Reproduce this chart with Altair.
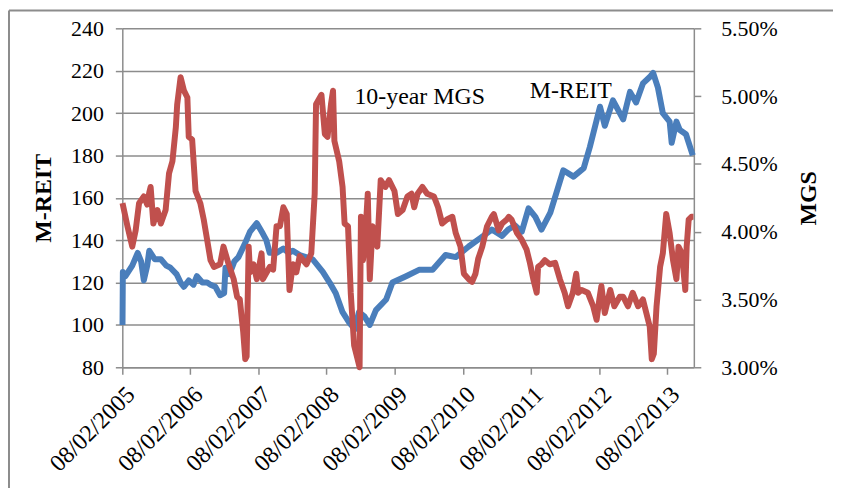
import altair as alt
import pandas as pd

# M-REIT index (left axis), decimal-year positions and values
mreit_t = [2005.107, 2005.112, 2005.15, 2005.25, 2005.33, 2005.38, 2005.42, 2005.47, 2005.50, 2005.58,
           2005.67, 2005.75, 2005.81, 2005.90, 2005.96, 2006.01, 2006.08, 2006.15, 2006.20, 2006.28,
           2006.35, 2006.40, 2006.47, 2006.54, 2006.60, 2006.62, 2006.68, 2006.75, 2006.81, 2006.90,
           2006.98, 2007.08, 2007.17, 2007.22, 2007.27, 2007.37, 2007.47, 2007.55, 2007.61, 2007.71,
           2007.90, 2008.05, 2008.15, 2008.24, 2008.34, 2008.44, 2008.52, 2008.58, 2008.66, 2008.74,
           2008.83, 2008.98, 2009.07, 2009.27, 2009.46, 2009.66, 2009.85, 2010.00, 2010.19, 2010.36,
           2010.53, 2010.68, 2010.77, 2010.87, 2010.97, 2011.07, 2011.17, 2011.26, 2011.39, 2011.58,
           2011.73, 2011.88, 2011.97, 2012.12, 2012.19, 2012.31, 2012.46, 2012.56, 2012.65, 2012.75,
           2012.85, 2012.90, 2012.97, 2013.04, 2013.14, 2013.17, 2013.24, 2013.29, 2013.38, 2013.48]
mreit_v = [100, 125, 123, 128, 134, 130, 121, 128, 135, 131,
           131, 128, 127, 124, 120, 118, 121, 119, 123, 120,
           120, 119, 118, 114, 115, 127, 124, 130, 132, 138,
           144, 148, 143, 140, 134, 134, 136, 134, 135, 133,
           131, 125, 120, 115, 106, 101, 98, 106, 104, 100,
           107, 112, 120, 123, 126, 126, 133, 132, 137, 141,
           145, 142, 145, 147, 144, 155, 151, 145, 153, 173,
           170, 174, 184, 203, 194, 206, 197, 210, 205, 214,
           217, 219, 212, 200, 196, 186, 196, 192, 190, 180]

# 10-year MGS yield in % (right axis)
mgs_t = [2005.107, 2005.18, 2005.25, 2005.30, 2005.35, 2005.42, 2005.47, 2005.50, 2005.52, 2005.56,
         2005.62, 2005.67, 2005.74, 2005.79, 2005.84, 2005.89, 2005.91, 2005.96, 2006.01, 2006.06,
         2006.08, 2006.13, 2006.18, 2006.25, 2006.30, 2006.35, 2006.40, 2006.45, 2006.54, 2006.59,
         2006.66, 2006.74, 2006.79, 2006.83, 2006.88, 2006.91, 2006.93, 2006.96, 2006.98, 2007.03,
         2007.08, 2007.15, 2007.17, 2007.27, 2007.32, 2007.37, 2007.42, 2007.47, 2007.52, 2007.56,
         2007.61, 2007.66, 2007.71, 2007.81, 2007.88, 2007.93, 2007.95, 2008.03, 2008.08, 2008.12,
         2008.17, 2008.20, 2008.22, 2008.29, 2008.34, 2008.37, 2008.42, 2008.46, 2008.51, 2008.56,
         2008.59, 2008.61, 2008.64, 2008.67, 2008.71, 2008.74, 2008.78, 2008.85, 2008.90, 2008.97,
         2009.02, 2009.10, 2009.15, 2009.22, 2009.29, 2009.35, 2009.39, 2009.44, 2009.51, 2009.58,
         2009.68, 2009.74, 2009.80, 2009.87, 2009.95, 2010.00, 2010.07, 2010.12, 2010.19, 2010.24,
         2010.29, 2010.33, 2010.39, 2010.46, 2010.53, 2010.56, 2010.63, 2010.68, 2010.75, 2010.78,
         2010.82, 2010.90, 2010.97, 2011.04, 2011.09, 2011.14, 2011.19, 2011.21, 2011.26, 2011.31,
         2011.38, 2011.46, 2011.53, 2011.60, 2011.65, 2011.72, 2011.77, 2011.80, 2011.85, 2011.94,
         2012.02, 2012.07, 2012.11, 2012.14, 2012.19, 2012.27, 2012.33, 2012.41, 2012.46, 2012.53,
         2012.60, 2012.68, 2012.75, 2012.80, 2012.85, 2012.88, 2012.91, 2012.95, 2013.00, 2013.04,
         2013.09, 2013.14, 2013.19, 2013.24, 2013.27, 2013.32, 2013.37, 2013.39, 2013.42, 2013.46,
         2013.49]
mgs_v = [4.21, 4.04, 3.89, 4.01, 4.21, 4.26, 4.20, 4.29, 4.33, 4.06,
         4.16, 4.06, 4.16, 4.43, 4.52, 4.77, 4.94, 5.14, 5.04, 4.99,
         4.70, 4.68, 4.30, 4.21, 4.09, 3.94, 3.79, 3.74, 3.76, 3.89,
         3.77, 3.65, 3.52, 3.50, 3.26, 3.06, 3.08, 3.89, 3.70, 3.76,
         3.65, 3.84, 3.65, 3.74, 3.72, 4.04, 4.04, 4.18, 4.13, 3.57,
         3.76, 3.70, 3.82, 3.76, 3.84, 4.28, 4.94, 5.01, 4.72, 4.70,
         4.94, 5.04, 4.67, 4.52, 4.33, 4.06, 4.04, 3.55, 3.16, 3.06,
         3.00, 4.11, 3.79, 3.94, 4.28, 3.65, 4.04, 3.89, 4.38, 4.33,
         4.38, 4.30, 4.13, 4.16, 4.26, 4.28, 4.18, 4.28, 4.33, 4.28,
         4.26, 4.18, 4.06, 4.09, 4.11, 3.99, 3.89, 3.69, 3.65, 3.63,
         3.69, 3.80, 3.89, 4.04, 4.11, 4.13, 4.01, 4.06, 4.09, 4.11,
         4.09, 3.99, 3.94, 3.87, 3.77, 3.65, 3.55, 3.74, 3.76, 3.79,
         3.76, 3.77, 3.65, 3.55, 3.45, 3.55, 3.69, 3.55, 3.57, 3.55,
         3.45, 3.35, 3.50, 3.60, 3.40, 3.57, 3.45, 3.52, 3.52, 3.45,
         3.55, 3.45, 3.50, 3.40, 3.30, 3.06, 3.10, 3.45, 3.74, 3.84,
         4.13, 3.99, 3.79, 3.65, 3.89, 3.84, 3.57, 3.89, 4.09, 4.11,
         4.11]

left_ticks = [80, 100, 120, 140, 160, 180, 200, 220, 240]
right_ticks = [3.0, 3.5, 4.0, 4.5, 5.0, 5.5]
x_tick_years = [2005, 2006, 2007, 2008, 2009, 2010, 2011, 2012, 2013]

labels_text = ["10-year MGS", "M-REIT"]
labels_t = [2009.47, 2011.69]
labels_y = [204.3, 207.2]


def to_date(t):
    y = int(t)
    return pd.Timestamp(year=y, month=1, day=1) + pd.Timedelta(days=(t - y) * 365.25)


mreit_df = pd.DataFrame({"date": [to_date(t) for t in mreit_t], "M-REIT": mreit_v})
mgs_df = pd.DataFrame({"date": [to_date(t) for t in mgs_t], "MGS": mgs_v})
lab_df = pd.DataFrame({"date": [to_date(t) for t in labels_t], "y": labels_y, "text": labels_text})

FONT = "Liberation Serif"
GRID = "#8c8c8c"

x_dom = [alt.DateTime(year=2005, month=2, date=8, utc=True),
         alt.DateTime(year=2013, month=7, date=1, utc=True)]
x_vals = [alt.DateTime(year=y, month=2, date=8, utc=True) for y in x_tick_years]

x_enc = alt.X(
    "date:T",
    scale=alt.Scale(type="utc", domain=x_dom),
    axis=alt.Axis(values=x_vals, format="%d/%m/%Y", labelAngle=-45, grid=False,
                  title=None, tickSize=7, labelPadding=8, labelOverlap=False, labelFontSize=24),
)

# decorative frame lines (top and left edges of the chart box)
border_df = pd.DataFrame({"k": [0]})
top_border = alt.Chart(border_df).mark_rule(color=GRID, strokeWidth=2).encode(
    x=alt.value(-114), x2=alt.value(720), y=alt.value(-18), y2=alt.value(-18)
)
left_border = alt.Chart(border_df).mark_rule(color=GRID, strokeWidth=2).encode(
    x=alt.value(-114), x2=alt.value(-114), y=alt.value(-18), y2=alt.value(470)
)

blue = alt.Chart(mreit_df).mark_line(color="#4A7EBB", strokeWidth=6, strokeJoin="round").encode(
    x=x_enc,
    y=alt.Y("M-REIT:Q",
            scale=alt.Scale(domain=[80, 240], nice=False, zero=False),
            axis=alt.Axis(values=left_ticks, grid=True, title="M-REIT", tickSize=7,
                          labelPadding=12, titlePadding=15)),
)

text = alt.Chart(lab_df).mark_text(font=FONT, fontSize=24, color="black", baseline="alphabetic").encode(
    x="date:T", y="y:Q", text="text:N"
)

left_layer = alt.layer(blue, text, top_border, left_border)

red = alt.Chart(mgs_df).mark_line(color="#C0504D", strokeWidth=6, strokeJoin="round").encode(
    x=alt.X("date:T"),
    y=alt.Y("MGS:Q",
            scale=alt.Scale(domain=[3.0, 5.5], nice=False, zero=False),
            axis=alt.Axis(values=right_ticks, grid=False, orient="right", title="MGS",
                          labelExpr="format(datum.value, '.2f') + '%'", tickSize=7,
                          labelPadding=20, titlePadding=44, titleAngle=270, titleBaseline="bottom")),
)

chart = alt.layer(left_layer, red).resolve_scale(y="independent").properties(
    width=575, height=341,
    autosize=alt.AutoSizeParams(type="none"),
    padding={"left": 115, "top": 19, "right": 140, "bottom": 120},
    background="white",
).configure_view(stroke=None).configure_axis(
    labelFont=FONT, labelFontSize=22, labelColor="black",
    titleFont=FONT, titleFontSize=24, titleFontWeight="bold", titleColor="black",
    domainColor=GRID, tickColor=GRID, gridColor=GRID, domainWidth=1.5, tickWidth=1.5, gridWidth=1.5,
)

chart.save("out.html", embed_options={"renderer": "svg", "actions": False})
